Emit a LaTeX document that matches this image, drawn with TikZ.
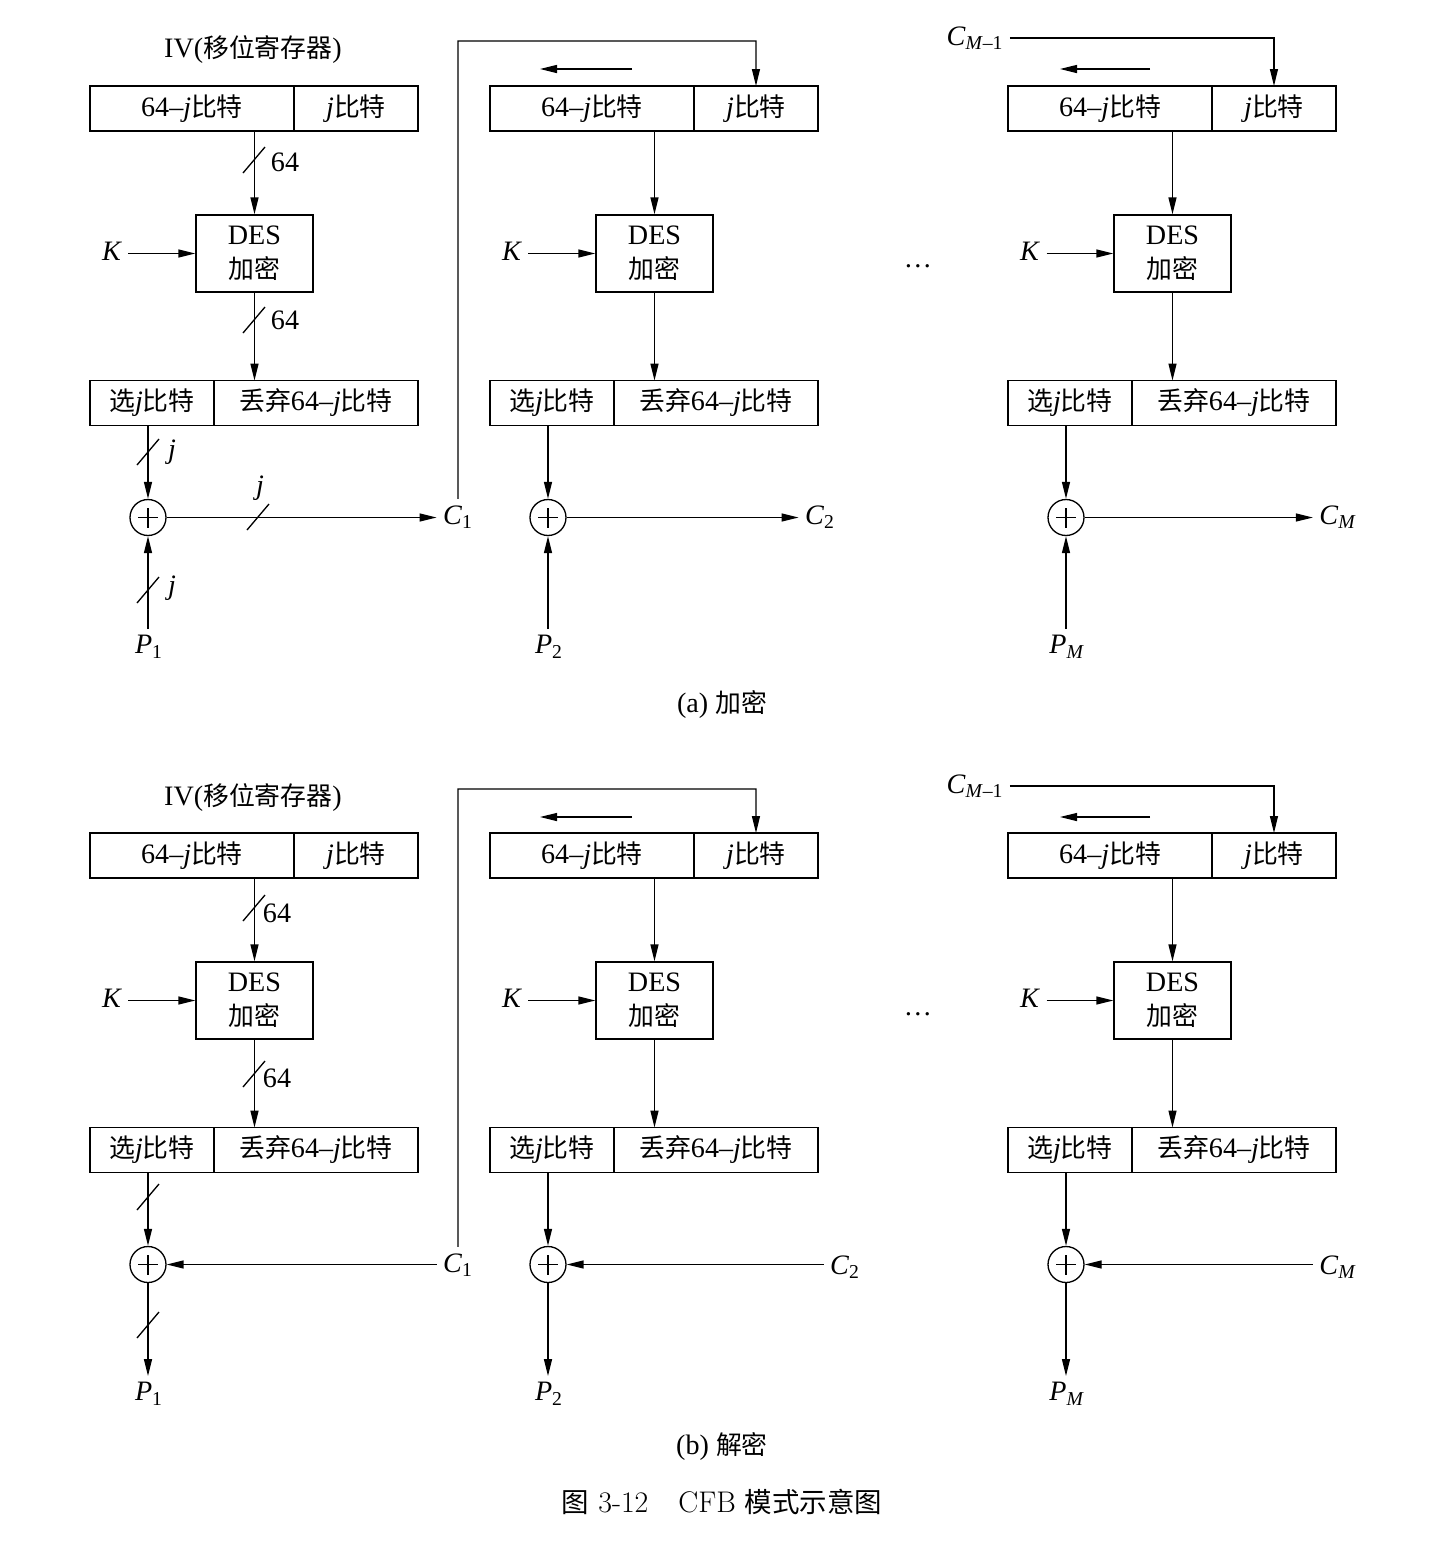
\documentclass[tikz,border=0pt]{standalone}
\usepackage{fontspec}
\setmainfont{Liberation Serif}
\newfontfamily\cjk{Noto Sans CJK SC}[Scale=0.92]
\newfontfamily\lmr{Latin Modern Roman}
\usetikzlibrary{arrows.meta,positioning,calc}

\newcommand{\bt}{{\cjk 比特}}
\newcommand{\jj}{\textit{j}}
%% slash mark on a bus line
\newcommand{\tick}[1]{\draw (#1) ++(-11,13) -- ++(22,-26);}

\begin{document}
\begin{tikzpicture}[
    x=0.02cm, y=-0.02cm, line width=0.75pt,
    >={Triangle[length=3.4mm,width=1.6mm]},
    every node/.style={font=\fontsize{16}{19}\selectfont},
    box/.style={draw, minimum height=0.9cm, inner sep=0pt, outer sep=0pt},
    wide/.style={box, minimum width=4.08cm},
    narrow/.style={box, minimum width=2.48cm},
    des/.style={draw, minimum width=2.34cm, minimum height=1.54cm,
                inner sep=0pt, align=center, font=\fontsize{16}{19.5}\selectfont},
    xor/.style={circle, draw, minimum size=0.72cm, inner sep=0pt,
                path picture={
                  \draw ([xshift=-0.2cm]path picture bounding box.center)
                     -- ([xshift=0.2cm]path picture bounding box.center);
                  \draw ([yshift=-0.2cm]path picture bounding box.center)
                     -- ([yshift=0.2cm]path picture bounding box.center);}},
  ]
  \useasboundingbox (0,0) rectangle (1438,1542);

  %% stages, both halves
  \foreach \s/\dy in {a/0, b/747}{
    \foreach \c/\dx/\sub in {1/0/1, 2/400/2, 3/918/{\textit{M}}}{
      \node[wide] (regL-\s\c) at (\dx+192,\dy+108.5) {64–\jj\bt};
      \node[narrow, right=0pt of regL-\s\c] (regR-\s\c) {\jj\bt};
      \node[des] (des-\s\c) at (\dx+254.5,\dy+253.5) {DES\\{\cjk 加密}};
      \node (K-\s\c) at (\dx+112,\dy+251) {\textit{K}};
      \node[narrow] (selL-\s\c) at (\dx+152,\dy+403) {{\cjk 选}\jj\bt};
      \node[wide, right=0pt of selL-\s\c] (selR-\s\c) {{\cjk 丢弃}64–\jj\bt};
      \node[xor] (xor-\s\c) at (\dx+148,\dy+517.5) {};
      \node (P-\s\c) at (\dx+149,\dy+647) {\textit{P}\textsubscript{\sub}};
      \draw[->] (regL-\s\c.south -| des-\s\c.north) -- (des-\s\c.north);
      \draw[->] (K-\s\c.east |- des-\s\c.west) -- (des-\s\c.west);
      \draw[->] (des-\s\c.south) -- (des-\s\c.south |- selR-\s\c.north);
      \draw[->] (selL-\s\c.south -| xor-\s\c.north) -- (xor-\s\c.north);
    }
  }

  %% (a) encryption
  \node (iv-a) at (253,50) {IV({\cjk 移位寄存器})};
  \node (C-a1) at (458,517) {\textit{C}\textsubscript{1}};
  \node (C-a2) at (820,517) {\textit{C}\textsubscript{2}};
  \node (C-a3) at (1338,517) {\textit{C}\textsubscript{\textit{M}}};
  \node (Cm-a) at (975,38) {\textit{C}\textsubscript{\textit{M}–1}};
  \foreach \c in {1,2,3}{
    \draw[->] (xor-a\c.east) -- (xor-a\c.east -| C-a\c.west);
    \draw[->] (xor-a\c.south |- P-a\c.north) -- (xor-a\c.south);
  }
  \coordinate (fb-a) at (756,41);
  \draw[->] (C-a1.north) |- (fb-a) -- (regR-a2.north);
  \draw[->] (Cm-a.east) -| (regR-a3.north);
  \draw[->] (632,69) -- (540,69);
  \draw[->] (1150,69) -- (1060,69);
  \tick{254,160} \node (w-a1) at (285,162) {64};
  \tick{254,320} \node (w-a2) at (285,320) {64};
  \tick{148,452} \node (w-a3) at (172,452) {\jj};
  \tick{258,517} \node (w-a4) at (260,488) {\jj};
  \tick{148,590} \node (w-a5) at (172,588) {\jj};
  \node (dots-a) at (918,266) {\ldots};
  \node (cap-a) at (722,704) {(a) {\cjk 加密}};

  %% (b) decryption
  \node (iv-b) at (253,798) {IV({\cjk 移位寄存器})};
  \node (C-b1) at (458,1265) {\textit{C}\textsubscript{1}};
  \node (C-b2) at (845,1267) {\textit{C}\textsubscript{2}};
  \node (C-b3) at (1338,1267) {\textit{C}\textsubscript{\textit{M}}};
  \node (Cm-b) at (975,786) {\textit{C}\textsubscript{\textit{M}–1}};
  \foreach \c in {1,2,3}{
    \draw[->] (xor-b\c.east -| C-b\c.west) -- (xor-b\c.east);
    \draw[->] (xor-b\c.south) -- (xor-b\c.south |- P-b\c.north);
  }
  \coordinate (fb-b) at (756,789);
  \draw[->] (C-b1.north) |- (fb-b) -- (regR-b2.north);
  \draw[->] (Cm-b.east) -| (regR-b3.north);
  \draw[->] (632,817) -- (540,817);
  \draw[->] (1150,817) -- (1060,817);
  \tick{254,908} \node (w-b1) at (277,913) {64};
  \tick{254,1074} \node (w-b2) at (277,1078) {64};
  \tick{148,1197}
  \tick{148,1325}
  \node (dots-b) at (918,1014) {\ldots};
  \node (cap-b) at (722,1446) {(b) {\cjk 解密}};

  \node[font=\lmr\fontsize{17}{20}\selectfont] (title) at (722,1502)
    {{\cjk 图} 3-12\quad CFB {\cjk 模式示意图}};
\end{tikzpicture}
\end{document}
